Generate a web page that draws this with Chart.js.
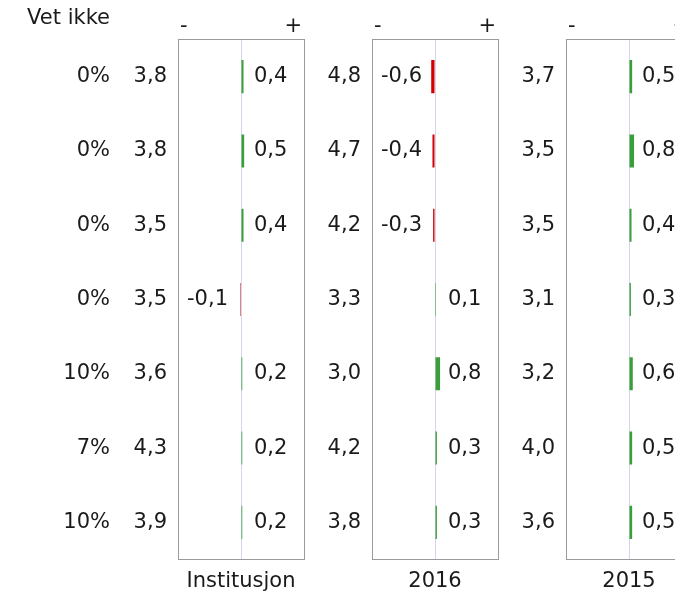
<!DOCTYPE html>
<html>
<head>
<meta charset="utf-8">
<script src="https://cdn.jsdelivr.net/npm/chart.js@4"></script>
<style>
    html, body { margin: 0; padding: 0; background: #fff; }
    body { width: 675px; height: 594px; overflow: hidden; position: relative; }
    .panel { position: absolute; top: 0; width: 320px; height: 594px; }
</style>
</head>
<body>
<div class="panel" style="left: 0px"><canvas id="panel0" width="320" height="594"></canvas></div>
<div class="panel" style="left: 194px"><canvas id="panel1" width="320" height="594"></canvas></div>
<div class="panel" style="left: 388px"><canvas id="panel2" width="320" height="594"></canvas></div>
<script>
const rows = ["1", "2", "3", "4", "5", "6", "7"];
const vetIkke = [0, 0, 0, 0, 10, 7, 10];

const titles = ["Institusjon", "2016", "2015"];

const meanInst = [3.8, 3.8, 3.5, 3.5, 3.6, 4.3, 3.9];
const diffInst = [0.4, 0.5, 0.4, -0.1, 0.2, 0.2, 0.2];

const mean2016 = [4.8, 4.7, 4.2, 3.3, 3.0, 4.2, 3.8];
const diff2016 = [-0.6, -0.4, -0.3, 0.1, 0.8, 0.3, 0.3];

const mean2015 = [3.7, 3.5, 3.5, 3.1, 3.2, 4.0, 3.6];
const diff2015 = [0.5, 0.8, 0.4, 0.3, 0.6, 0.5, 0.5];

const FONT = "21px 'DejaVu Sans'";
const TEXT = "#1a1a1a";
const GREEN = "#3a9e3a";
const RED = "#d40000";

const fmt = (v) => v.toFixed(1).replace(".", ",");

const panelText = {
    id: "panelText",
    afterDraw(chart, args, opts) {
        const { ctx, chartArea: { left, right, top, bottom } } = chart;
        const xScale = chart.scales.x;
        const yScale = chart.scales.y;
        const x0 = xScale.getPixelForValue(0);

        ctx.save();

        // frame
        ctx.strokeStyle = "#9a9a9a";
        ctx.lineWidth = 1;
        ctx.strokeRect(left + 0.5, top, right - left, bottom - top);

        ctx.font = FONT;
        ctx.fillStyle = TEXT;
        ctx.textBaseline = "middle";

        // - / + over the box
        ctx.textAlign = "left";
        ctx.fillText("-", left + 2, 27);
        ctx.textAlign = "right";
        ctx.fillText("+", right - 2, 27);

        // title under the box
        ctx.textAlign = "center";
        ctx.fillText(opts.title, x0, 582);

        for (let i = 0; i < rows.length; i++) {
            const y = yScale.getPixelForValue(i);

            ctx.textAlign = "right";
            ctx.fillText(fmt(opts.means[i]), left - 11, y);

            const d = opts.diffs[i];
            if (d >= 0) {
                ctx.textAlign = "left";
                ctx.fillText(fmt(d), x0 + 13, y);
            } else {
                ctx.textAlign = "right";
                ctx.fillText(fmt(d), x0 - 13, y);
            }

            if (opts.vetIkke) {
                ctx.textAlign = "right";
                ctx.fillText(opts.vetIkke[i] + "%", 110, y);
            }
        }

        if (opts.vetIkke) {
            ctx.textAlign = "right";
            ctx.fillText("Vet ikke", 110, 19);
        }

        ctx.restore();
    },
};

function buildPanel(id, title, means, diffs, showVetIkke) {
    return new Chart(document.getElementById(id), {
        type: "bar",
        data: {
            labels: rows,
            datasets: [
                {
                    data: diffs,
                    backgroundColor: diffs.map((v) => (v < 0 ? RED : GREEN)),
                    borderWidth: 0,
                    minBarLength: 1,
                    barPercentage: 0.445,
                    categoryPercentage: 1,
                },
            ],
        },
        options: {
            indexAxis: "y",
            responsive: false,
            animation: false,
            layout: {
                padding: { left: 178, right: 16, top: 39.5, bottom: 34.5 },
            },
            scales: {
                x: {
                    min: -10,
                    max: 10,
                    ticks: { display: false, stepSize: 10 },
                    border: { display: false },
                    grid: {
                        drawTicks: false,
                        color: (c) => (c.tick && c.tick.value === 0 ? "#d4d4ee" : "transparent"),
                    },
                    afterFit: (s) => {
                        s.height = 0;
                    },
                },
                y: {
                    display: false,
                },
            },
            plugins: {
                legend: { display: false },
                tooltip: { enabled: false },
                panelText: {
                    title: title,
                    means: means,
                    diffs: diffs,
                    vetIkke: showVetIkke ? vetIkke : null,
                },
            },
        },
        plugins: [panelText],
    });
}

buildPanel("panel0", titles[0], meanInst, diffInst, true);
buildPanel("panel1", titles[1], mean2016, diff2016, false);
buildPanel("panel2", titles[2], mean2015, diff2015, false);
</script>
</body>
</html>
